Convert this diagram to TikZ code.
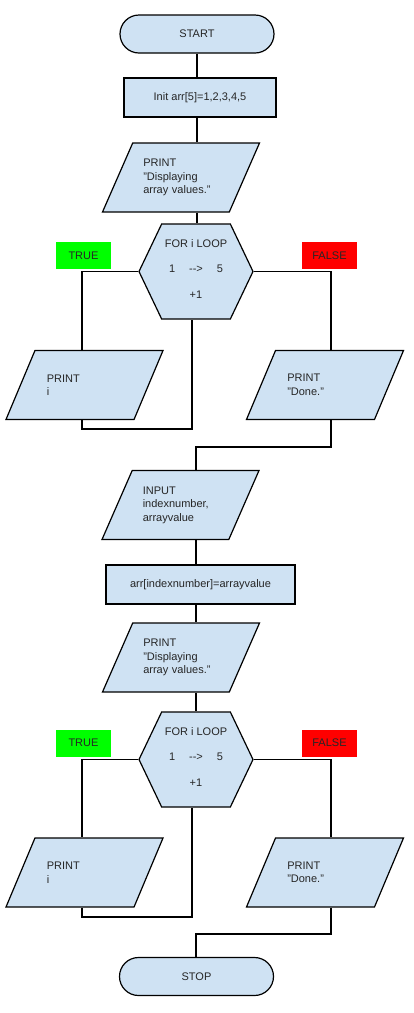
\documentclass[tikz,border=0pt]{standalone}
\usepackage{fontspec}
\setmainfont{Liberation Sans}
\usepackage{tikz}
\usetikzlibrary{shapes.geometric,shapes.symbols}

\definecolor{boxblue}{HTML}{CFE2F3}
\definecolor{truegreen}{HTML}{00FF00}
\definecolor{falsered}{HTML}{FF0000}

\begin{document}
\begin{tikzpicture}[x=1pt, y=-1pt, line width=1.2pt,
  every node/.style={font=\fontsize{11}{13.5}\selectfont, text=black!85},
  terminal/.style={draw, fill=boxblue, rounded corners=19pt, minimum width=154pt, minimum height=38pt},
  process/.style={draw, fill=boxblue, minimum height=39pt},
  io/.style={draw, fill=boxblue, trapezium, trapezium left angle=66, trapezium right angle=114,
    trapezium stretches body, minimum width=157pt, minimum height=69pt,
    text width=75.5pt, align=left, inner xsep=2pt, inner ysep=15.5pt},
  iotwo/.style={io, inner ysep=22pt},
  loop/.style={draw, fill=boxblue, signal, signal to=east and west, signal pointer angle=129,
    minimum width=114pt, minimum height=95pt, align=center, inner sep=0pt},
  tag/.style={minimum width=55pt, minimum height=27pt}]
  \useasboundingbox (0,0) rectangle (414,1013);

  \node[terminal] (start)   at (197,34)     {START};
  \node[process, minimum width=152pt] (init) at (200,97.5) {Init arr[5]=1,2,3,4,5};
  \node[io] (print1)        at (181,177.5)  {PRINT\\"Displaying\\array values."};
  \node[loop] (loop1)       at (196,271.5)  {FOR i LOOP\\[12pt]1\hspace{14pt}-{}-{}>\hspace{14pt}5\\[12pt]+1\\[-8pt]};
  \node[tag, fill=truegreen] (true1)  at (83.5,255.5)  {TRUE};
  \node[tag, fill=falsered]  (false1) at (329.5,255.5) {FALSE};
  \node[iotwo] (printi1)    at (84.5,385)   {PRINT\\i};
  \node[iotwo] (printd1)    at (325,385)    {PRINT\\"Done."};
  \node[io] (input)         at (180.5,505)  {INPUT\\indexnumber,\\arrayvalue};
  \node[process, minimum width=189pt] (arr) at (200.5,584.5) {arr[indexnumber]=arrayvalue};
  \node[io] (print2)        at (181,657.5)  {PRINT\\"Displaying\\array values."};
  \node[loop] (loop2)       at (196,759.5)  {FOR i LOOP\\[12pt]1\hspace{14pt}-{}-{}>\hspace{14pt}5\\[12pt]+1\\[-8pt]};
  \node[tag, fill=truegreen] (true2)  at (83.5,743)  {TRUE};
  \node[tag, fill=falsered]  (false2) at (329.5,743) {FALSE};
  \node[iotwo] (printi2)    at (84.5,872.5) {PRINT\\i};
  \node[iotwo] (printd2)    at (325,872.5)  {PRINT\\"Done."};
  \node[terminal] (stop)    at (196.5,976.5) {STOP};

  % columns and bends
  \coordinate (xl) at (82,0);
  \coordinate (xr) at (331,0);
  \coordinate (back1) at (192,429);
  \coordinate (back2) at (192,917);
  \coordinate (join1) at (196,447);
  \coordinate (join2) at (196,934);

  \draw (start.south) -- (init.north -| start);
  \draw (init.south -| start) -- (print1.north -| start);
  \draw (print1.south -| start) -- (loop1.north -| start);
  \draw (loop1.west) -| (printi1.north -| xl);
  \draw (printi1.south -| xl) |- (back1) -- (back1 |- loop1.south);
  \draw (loop1.east) -| (printd1.north -| xr);
  \draw (printd1.south -| xr) |- (join1) -- (join1 |- input.north);
  \draw (input.south -| join1) -- (arr.north -| join1);
  \draw (arr.south -| join1) -- (print2.north -| join1);
  \draw (print2.south -| join1) -- (loop2.north -| join1);
  \draw (loop2.west) -| (printi2.north -| xl);
  \draw (printi2.south -| xl) |- (back2) -- (back2 |- loop2.south);
  \draw (loop2.east) -| (printd2.north -| xr);
  \draw (printd2.south -| xr) |- (join2) -- (join2 |- stop.north);
\end{tikzpicture}
\end{document}
